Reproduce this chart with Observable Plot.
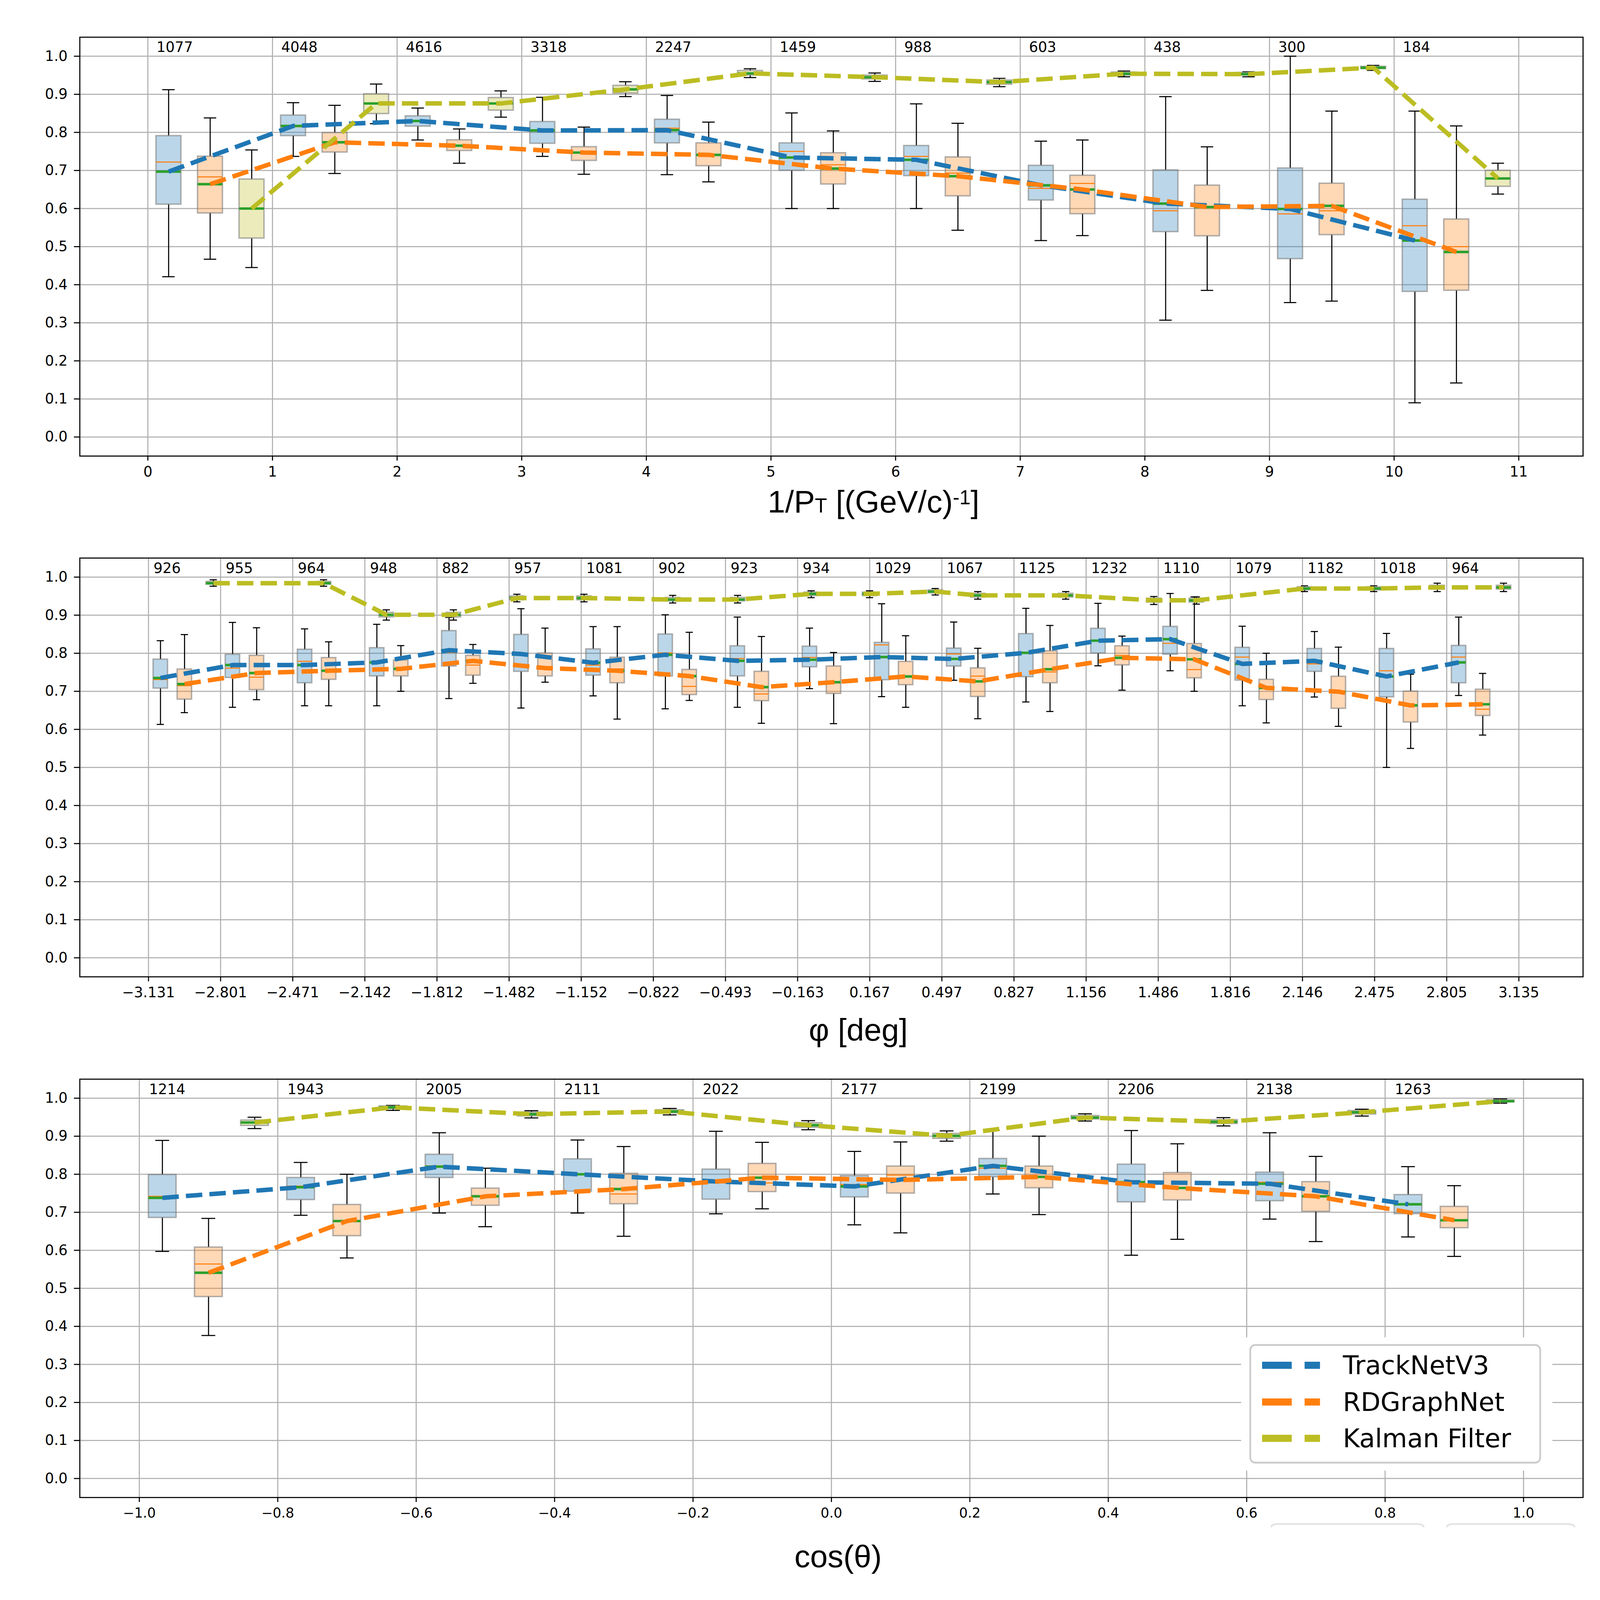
<!DOCTYPE html>
<html><head><meta charset="utf-8">
<script src="https://cdn.jsdelivr.net/npm/d3@7"></script>
<script src="https://cdn.jsdelivr.net/npm/@observablehq/plot@0.6"></script>
<style>
html,body{margin:0;padding:0;background:#fff;overflow:hidden;}
#wrap{position:relative;background:#fff;overflow:hidden;}
.panel{position:absolute;left:0;}
</style></head><body><div id="wrap"></div>
<script>
// ---------------- data ----------------
const methods = ["TrackNetV3", "RDGraphNet", "Kalman Filter"];
const methodColors = ["#1f77b4", "#ff7f0e", "#bcbd22"];
const yTicks = [0.0, 0.1, 0.2, 0.3, 0.4, 0.5, 0.6, 0.7, 0.8, 0.9, 1.0];

// each entry: [lower whisker, Q1, median, Q3, upper whisker, mean]
// Panel 1 : 1/PT
const p1_ticks = [0, 1, 2, 3, 4, 5, 6, 7, 8, 9, 10, 11];
const p1_counts = [1077, 4048, 4616, 3318, 2247, 1459, 988, 603, 438, 300, 184];
const p1_tn = [
  [0.421, 0.611, 0.722, 0.791, 0.912, 0.697],[0.737, 0.791, 0.815, 0.845, 0.878, 0.817],
  [0.780, 0.816, 0.829, 0.843, 0.864, 0.830],[0.737, 0.771, 0.803, 0.828, 0.892, 0.805],
  [0.689, 0.772, 0.811, 0.834, 0.897, 0.806],[0.600, 0.700, 0.750, 0.772, 0.851, 0.734],
  [0.600, 0.686, 0.737, 0.765, 0.875, 0.728],[0.516, 0.622, 0.653, 0.713, 0.777, 0.661],
  [0.307, 0.539, 0.594, 0.701, 0.894, 0.613],[0.353, 0.468, 0.586, 0.706, 1.000, 0.599],
  [0.090, 0.382, 0.555, 0.624, 0.856, 0.516]];
const p1_rd = [
  [0.467, 0.588, 0.683, 0.737, 0.838, 0.664],[0.692, 0.748, 0.776, 0.799, 0.871, 0.774],
  [0.719, 0.752, 0.766, 0.780, 0.809, 0.765],[0.690, 0.726, 0.748, 0.762, 0.814, 0.747],
  [0.670, 0.712, 0.742, 0.772, 0.827, 0.741],[0.600, 0.664, 0.715, 0.746, 0.804, 0.705],
  [0.543, 0.633, 0.693, 0.735, 0.824, 0.685],[0.529, 0.586, 0.666, 0.687, 0.780, 0.650],
  [0.385, 0.528, 0.603, 0.661, 0.762, 0.604],[0.357, 0.531, 0.594, 0.666, 0.856, 0.607],
  [0.142, 0.385, 0.500, 0.572, 0.817, 0.486]];
const p1_kf = [
  [0.445, 0.522, 0.600, 0.677, 0.754, 0.600],[0.823, 0.849, 0.876, 0.901, 0.927, 0.876],
  [0.840, 0.858, 0.876, 0.891, 0.909, 0.876],[0.894, 0.903, 0.913, 0.923, 0.933, 0.913],
  [0.944, 0.950, 0.955, 0.962, 0.967, 0.955],[0.934, 0.940, 0.945, 0.950, 0.956, 0.945],
  [0.920, 0.926, 0.932, 0.937, 0.942, 0.932],[0.946, 0.950, 0.954, 0.958, 0.961, 0.954],
  [0.946, 0.950, 0.953, 0.957, 0.959, 0.953],[0.963, 0.967, 0.970, 0.973, 0.976, 0.970],
  [0.638, 0.658, 0.679, 0.700, 0.719, 0.679]];

// Panel 2 : phi (bin index units; tick labels are the bin edges)
const p2_tick_labels = ["−3.131","−2.801","−2.471","−2.142","−1.812","−1.482","−1.152","−0.822","−0.493","−0.163",
  "0.167","0.497","0.827","1.156","1.486","1.816","2.146","2.475","2.805","3.135"];
const p2_counts = [926, 955, 964, 948, 882, 957, 1081, 902, 923, 934, 1029, 1067, 1125, 1232, 1110, 1079, 1182, 1018, 964];
const p2_tn = [
  [0.613, 0.708, 0.731, 0.784, 0.833, 0.735],[0.658, 0.736, 0.761, 0.797, 0.881, 0.769],
  [0.662, 0.722, 0.779, 0.810, 0.864, 0.769],[0.662, 0.740, 0.776, 0.814, 0.876, 0.776],
  [0.681, 0.766, 0.802, 0.859, 0.894, 0.808],[0.656, 0.752, 0.798, 0.849, 0.917, 0.798],
  [0.688, 0.742, 0.769, 0.811, 0.870, 0.775],[0.654, 0.740, 0.801, 0.850, 0.901, 0.796],
  [0.658, 0.740, 0.786, 0.819, 0.895, 0.780],[0.707, 0.764, 0.789, 0.818, 0.866, 0.783],
  [0.686, 0.730, 0.822, 0.828, 0.930, 0.790],[0.729, 0.766, 0.798, 0.813, 0.882, 0.785],
  [0.672, 0.738, 0.801, 0.851, 0.918, 0.801],[0.767, 0.800, 0.833, 0.865, 0.931, 0.833],
  [0.754, 0.797, 0.826, 0.870, 0.957, 0.837],[0.662, 0.729, 0.790, 0.815, 0.871, 0.772],
  [0.685, 0.752, 0.772, 0.812, 0.857, 0.780],[0.500, 0.685, 0.754, 0.812, 0.852, 0.739],
  [0.689, 0.722, 0.790, 0.820, 0.895, 0.776]];
const p2_rd = [
  [0.644, 0.679, 0.715, 0.758, 0.849, 0.719],[0.678, 0.704, 0.737, 0.794, 0.867, 0.748],
  [0.662, 0.731, 0.754, 0.788, 0.830, 0.754],[0.700, 0.740, 0.759, 0.782, 0.820, 0.759],
  [0.721, 0.742, 0.769, 0.794, 0.823, 0.780],[0.724, 0.740, 0.765, 0.800, 0.866, 0.761],
  [0.627, 0.722, 0.759, 0.789, 0.870, 0.754],[0.676, 0.691, 0.713, 0.757, 0.855, 0.740],
  [0.616, 0.675, 0.693, 0.752, 0.844, 0.711],[0.615, 0.694, 0.722, 0.766, 0.802, 0.724],
  [0.658, 0.717, 0.739, 0.778, 0.846, 0.739],[0.628, 0.686, 0.740, 0.761, 0.813, 0.726],
  [0.647, 0.722, 0.751, 0.806, 0.873, 0.758],[0.703, 0.769, 0.794, 0.819, 0.845, 0.788],
  [0.700, 0.735, 0.757, 0.825, 0.948, 0.784],[0.617, 0.678, 0.709, 0.731, 0.800, 0.709],
  [0.608, 0.655, 0.699, 0.739, 0.816, 0.699],[0.550, 0.619, 0.663, 0.700, 0.745, 0.663],
  [0.585, 0.636, 0.653, 0.705, 0.747, 0.666]];
const p2_kf_pos = [0.90, 2.43, 3.30, 4.23, 5.11, 6.04, 7.27, 8.17, 9.19, 10.0, 10.91, 11.50, 12.72, 13.94, 14.53, 16.03, 16.99, 17.87, 18.79];
const p2_kf = [
  [0.976, 0.981, 0.984, 0.988, 0.993, 0.984],[0.976, 0.981, 0.984, 0.988, 0.993, 0.984],
  [0.887, 0.895, 0.901, 0.907, 0.914, 0.901],[0.887, 0.895, 0.901, 0.907, 0.914, 0.901],
  [0.935, 0.940, 0.945, 0.950, 0.955, 0.945],[0.935, 0.940, 0.945, 0.950, 0.955, 0.945],
  [0.932, 0.937, 0.941, 0.946, 0.952, 0.941],[0.932, 0.937, 0.941, 0.946, 0.952, 0.941],
  [0.946, 0.951, 0.956, 0.960, 0.964, 0.956],[0.946, 0.951, 0.956, 0.960, 0.964, 0.956],
  [0.953, 0.958, 0.962, 0.966, 0.970, 0.962],[0.942, 0.947, 0.952, 0.957, 0.962, 0.952],
  [0.942, 0.947, 0.952, 0.957, 0.962, 0.952],[0.928, 0.934, 0.939, 0.944, 0.949, 0.939],
  [0.929, 0.934, 0.939, 0.944, 0.948, 0.939],[0.962, 0.966, 0.970, 0.974, 0.977, 0.970],
  [0.962, 0.966, 0.970, 0.974, 0.977, 0.970],[0.962, 0.968, 0.973, 0.978, 0.984, 0.973],
  [0.962, 0.968, 0.973, 0.978, 0.984, 0.973]];

// Panel 3 : cos(theta)
const p3_ticks = [-1.0, -0.8, -0.6, -0.4, -0.2, 0.0, 0.2, 0.4, 0.6, 0.8, 1.0];
const p3_counts = [1214, 1943, 2005, 2111, 2022, 2177, 2199, 2206, 2138, 1263];
const p3_tn = [
  [0.597, 0.686, 0.742, 0.799, 0.889, 0.738],[0.692, 0.733, 0.769, 0.791, 0.831, 0.766],
  [0.698, 0.791, 0.822, 0.852, 0.909, 0.820],[0.698, 0.755, 0.800, 0.840, 0.890, 0.800],
  [0.696, 0.734, 0.777, 0.813, 0.913, 0.781],[0.667, 0.740, 0.773, 0.796, 0.860, 0.768],
  [0.748, 0.793, 0.816, 0.841, 0.916, 0.822],[0.587, 0.727, 0.779, 0.826, 0.915, 0.779],
  [0.682, 0.730, 0.779, 0.805, 0.909, 0.775],[0.635, 0.696, 0.721, 0.746, 0.820, 0.721]];
const p3_rd = [
  [0.376, 0.478, 0.564, 0.608, 0.684, 0.541],[0.580, 0.638, 0.677, 0.720, 0.800, 0.677],
  [0.662, 0.718, 0.742, 0.763, 0.816, 0.742],[0.637, 0.722, 0.748, 0.802, 0.873, 0.761],
  [0.709, 0.754, 0.777, 0.828, 0.884, 0.791],[0.646, 0.750, 0.798, 0.821, 0.885, 0.785],
  [0.694, 0.764, 0.793, 0.821, 0.900, 0.793],[0.629, 0.732, 0.764, 0.804, 0.880, 0.764],
  [0.623, 0.702, 0.742, 0.780, 0.847, 0.742],[0.584, 0.659, 0.679, 0.715, 0.770, 0.679]];
const p3_kf = [
  [0.920, 0.928, 0.936, 0.942, 0.950, 0.936],[0.968, 0.972, 0.976, 0.979, 0.981, 0.976],
  [0.948, 0.953, 0.958, 0.963, 0.967, 0.958],[0.956, 0.961, 0.965, 0.969, 0.973, 0.965],
  [0.917, 0.923, 0.929, 0.935, 0.941, 0.929],[0.887, 0.894, 0.901, 0.907, 0.914, 0.901],
  [0.940, 0.945, 0.949, 0.954, 0.959, 0.949],[0.927, 0.933, 0.938, 0.943, 0.949, 0.938],
  [0.953, 0.958, 0.963, 0.967, 0.971, 0.963],[0.987, 0.990, 0.992, 0.995, 0.998, 0.992]];

// ---------------- layout (reference is 4200 x 4800; fit to the actual window) ----------------
const W = window.innerWidth || 4200, H = window.innerHeight || 4800;
const SX = W / 4200, SY = H / 4800, FS = (SX + SY) / 2;
const px = v => v * SX, py = v => v * SY, pf = v => v * FS;
const FONT = "DejaVu Sans";
const LABEL_FONT = "Liberation Sans";

const wrap = document.getElementById("wrap");
wrap.style.width = W + "px";
wrap.style.height = H + "px";

function toRows(stats, positions, step) {
  return stats.map((s, i) => ({
    x: positions[i],
    bl: positions[i] - 0.1 * step, br: positions[i] + 0.1 * step,
    cl: positions[i] - 0.05 * step, cr: positions[i] + 0.05 * step,
    low: s[0], q1: s[1], med: s[2], q3: s[3], high: s[4], mean: s[5]
  }));
}
function boxMarks(rows, color) {
  const k = {stroke: "black", strokeWidth: pf(3)};
  return [
    Plot.ruleX(rows, {x: "x", y1: "low", y2: "q1", ...k}),
    Plot.ruleX(rows, {x: "x", y1: "q3", y2: "high", ...k}),
    Plot.ruleY(rows, {y: "low", x1: "cl", x2: "cr", ...k}),
    Plot.ruleY(rows, {y: "high", x1: "cl", x2: "cr", ...k}),
    Plot.rect(rows, {x1: "bl", x2: "br", y1: "q1", y2: "q3", fill: color, fillOpacity: 0.3,
      stroke: "#7f7f7f", strokeOpacity: 0.6, strokeWidth: pf(4)}),
    Plot.ruleY(rows, {y: "med", x1: "bl", x2: "br", stroke: "#ff7f0e", strokeWidth: pf(3)}),
    Plot.ruleY(rows, {y: "mean", x1: "bl", x2: "br", stroke: "#2ca02c", strokeWidth: pf(7)})
  ];
}
function lineMark(rows, color) {
  return Plot.line(rows, {x: "x", y: "mean", stroke: color, strokeWidth: pf(12.5),
    strokeDasharray: `${pf(46)},${pf(20)}`, strokeLinecap: "butt"});
}
function makePanel(cfg) {
  const top = Math.round(py(cfg.top));
  const height = Math.round(py(cfg.top + cfg.height)) - top;
  const seriesRows = cfg.series.map(s => toRows(s.stats, s.pos, cfg.step));
  const countRows = cfg.counts.map((c, k) => ({x: cfg.x0 + cfg.step * (k + 0.07), y: 1.023, t: String(c)}));
  const grid = {stroke: "#b0b0b0", strokeOpacity: 1, strokeWidth: pf(3)};
  const marks = [Plot.gridX(cfg.ticks, grid), Plot.gridY(yTicks, grid)];
  seriesRows.forEach((rows, i) => marks.push(...boxMarks(rows, methodColors[i])));
  seriesRows.forEach((rows, i) => marks.push(lineMark(rows, methodColors[i])));
  marks.push(
    Plot.text(countRows, {x: "x", y: "y", text: "t", textAnchor: "start", lineAnchor: "middle",
      fontSize: pf(40), fill: "black"}),
    Plot.axisX(cfg.ticks, {tickFormat: cfg.tickFormat, tickSize: py(14), tickPadding: py(17),
      fontSize: pf(cfg.tickFont), strokeWidth: pf(3), label: null}),
    Plot.axisY(yTicks, {tickFormat: d3.format(".1f"), tickSize: px(15), tickPadding: px(17),
      fontSize: pf(40), strokeWidth: pf(3), label: null}),
    Plot.frame({stroke: "black", strokeWidth: pf(3)})
  );
  const svg = Plot.plot({
    width: W, height,
    marginTop: py(cfg.mt), marginBottom: py(cfg.mb), marginLeft: px(209), marginRight: px(45),
    style: {fontFamily: FONT, fontSize: pf(40) + "px", background: "white", color: "black", overflow: "visible"},
    x: {domain: cfg.xDomain, label: null},
    y: {domain: [-0.05, 1.05], label: null},
    marks
  });
  svg.classList.add("panel");
  svg.style.top = top + "px";
  svg.style.maxWidth = "none";
  wrap.appendChild(svg);
  return svg;
}
const binPos = (n, x0, step, frac) => d3.range(n).map(k => x0 + step * (k + frac));

const svg1 = makePanel({top: 0, height: 1600, mt: 111, mb: 232, x0: 0, step: 1, xDomain: [-0.546, 11.516],
  ticks: p1_ticks, tickFormat: d => String(d), tickFont: 40, counts: p1_counts,
  series: [{stats: p1_tn, pos: binPos(p1_tn.length, 0, 1, 1/6)},
           {stats: p1_rd, pos: binPos(p1_rd.length, 0, 1, 1/2)},
           {stats: p1_kf, pos: binPos(p1_kf.length, 0, 1, 5/6)}]});
const svg2 = makePanel({top: 1600, height: 1570, mt: 74, mb: 240, x0: 0, step: 1, xDomain: [-0.952, 19.89],
  ticks: d3.range(p2_tick_labels.length), tickFormat: d => p2_tick_labels[d], tickFont: 40, counts: p2_counts,
  series: [{stats: p2_tn, pos: binPos(p2_tn.length, 0, 1, 1/6)},
           {stats: p2_rd, pos: binPos(p2_rd.length, 0, 1, 1/2)},
           {stats: p2_kf, pos: p2_kf_pos}]});
const svg3 = makePanel({top: 3170, height: 1630, mt: 67, mb: 308, x0: -1, step: 0.2, xDomain: [-1.086, 1.086],
  ticks: p3_ticks, tickFormat: d => (d < 0 ? "−" : "") + Math.abs(d).toFixed(1), tickFont: 38, counts: p3_counts,
  series: [{stats: p3_tn, pos: binPos(p3_tn.length, -1, 0.2, 1/6)},
           {stats: p3_rd, pos: binPos(p3_rd.length, -1, 0.2, 1/2)},
           {stats: p3_kf, pos: binPos(p3_kf.length, -1, 0.2, 5/6)}]});

// ---------------- axis titles ----------------
const t1 = d3.select(svg1).append("text").attr("x", px(2293)).attr("y", py(1537)).attr("text-anchor", "middle")
  .attr("font-family", LABEL_FONT).attr("font-size", pf(88)).attr("fill", "black");
t1.append("tspan").text("1/P");
t1.append("tspan").attr("font-size", pf(56)).text("T");
t1.append("tspan").text(" [(GeV/c)");
t1.append("tspan").attr("font-size", pf(56)).attr("dy", -pf(22)).text("-1");
t1.append("tspan").attr("dy", pf(22)).text("]");
d3.select(svg2).append("text").attr("x", px(2253)).attr("y", py(1522)).attr("text-anchor", "middle")
  .attr("font-family", LABEL_FONT).attr("font-size", pf(88)).attr("fill", "black").text("φ [deg]");
d3.select(svg3).append("text").attr("x", px(2200)).attr("y", py(1532)).attr("text-anchor", "middle")
  .attr("font-family", LABEL_FONT).attr("font-size", pf(88)).attr("fill", "black").text("cos(θ)");

// faint remnants below the bottom axis (as in the reference)
[[3337, 3737], [3798, 4133]].forEach(([a, b]) => {
  d3.select(svg3).append("path")
    .attr("d", `M${px(a)},${py(1412)} Q${px(a)},${py(1402)} ${px(a + 20)},${py(1402)} L${px(b - 20)},${py(1402)} Q${px(b)},${py(1402)} ${px(b)},${py(1412)}`)
    .attr("fill", "none").attr("stroke", "#e4e4e4").attr("stroke-width", pf(5));
});

// ---------------- legend (inside panel 3) ----------------
const lg = d3.select(svg3).append("g").attr("text-anchor", "start");
lg.append("rect").attr("x", px(3258)).attr("y", py(842)).attr("width", px(817)).attr("height", py(400)).attr("fill", "white");
lg.append("rect").attr("x", px(3282)).attr("y", py(865)).attr("width", px(761)).attr("height", py(353))
  .attr("rx", pf(14)).attr("fill", "white").attr("stroke", "#cccccc").attr("stroke-width", pf(5));
const legendY = [926, 1036, 1145];
methods.forEach((m, i) => {
  lg.append("line").attr("x1", px(3313)).attr("x2", px(3465)).attr("y1", py(legendY[i])).attr("y2", py(legendY[i]))
    .attr("stroke", methodColors[i]).attr("stroke-width", pf(20)).attr("stroke-dasharray", `${pf(83)},${pf(36)}`);
  lg.append("text").attr("x", px(3525)).attr("y", py(legendY[i])).attr("dominant-baseline", "central")
    .attr("text-anchor", "start")
    .attr("font-family", FONT).attr("font-size", pf(72)).attr("fill", "black").text(m);
});
</script>
</body></html>
